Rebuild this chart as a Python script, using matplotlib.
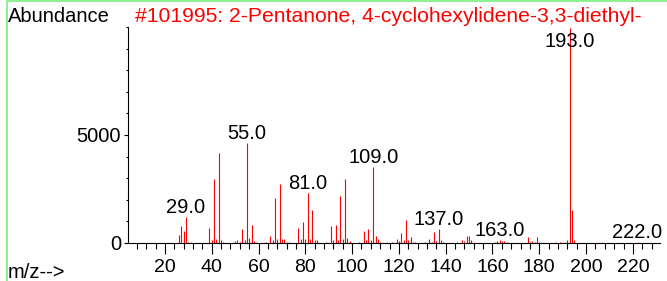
import matplotlib
matplotlib.use("Agg")
import matplotlib.pyplot as plt
from matplotlib.lines import Line2D
from matplotlib.ticker import FixedLocator, MultipleLocator

plt.rcParams['font.family'] = ['Liberation Sans', 'DejaVu Sans']

title = "#101995: 2-Pentanone, 4-cyclohexylidene-3,3-diethyl-"
y_label = "Abundance"
x_label = "m/z-->"

mz = [26, 27, 28, 29, 30, 31, 39, 40, 41, 42, 43, 44, 45, 50, 51, 52, 53, 54, 55, 56,
      57, 58, 59, 63, 65, 66, 67, 68, 69, 70, 71, 72, 73, 77, 78, 79, 80, 81, 82, 83,
      84, 85, 89, 91, 92, 93, 94, 95, 96, 97, 98, 99, 103, 105, 106, 107, 108, 109, 110, 111,
      112, 115, 117, 119, 120, 121, 122, 123, 124, 125, 126, 127, 131, 133, 134, 135, 136, 137, 138, 139,
      145, 147, 148, 149, 150, 151, 152, 161, 162, 163, 164, 165, 166, 175, 176, 177, 178, 179, 180, 187,
      189, 191, 192, 193, 194, 195, 207, 222]
abundance = [370, 775, 560, 1210, 50, 30, 670, 125, 2957, 170, 4150, 125, 50, 60, 125, 40, 650, 125, 4615, 232,
             822, 60, 40, 40, 320, 125, 2090, 158, 2725, 158, 158, 40, 30, 668, 158, 960, 158, 2320, 158, 1518,
             110, 125, 30, 775, 125, 822, 110, 2168, 172, 2943, 232, 60, 50, 550, 110, 640, 110, 3530, 311, 158,
             40, 40, 50, 170, 60, 460, 110, 1054, 110, 270, 40, 40, 50, 190, 50, 500, 90, 630, 110, 50,
             40, 130, 80, 325, 311, 125, 40, 50, 60, 110, 60, 80, 40, 250, 40, 90, 30, 260, 30, 30,
             30, 40, 110, 9990, 1518, 140, 40, 30]

labeled_peaks = [29, 55, 81, 109, 137, 163, 193, 222]
x_major_ticks = [20, 40, 60, 80, 100, 120, 140, 160, 180, 200, 220]
y_major_ticks = [0, 5000]

W, H = 667, 281
fig = plt.figure(figsize=(W / 100, H / 100), dpi=100)
ax_left, ax_right, ax_top, ax_bottom = 128, 660, 27.3, 242.7
ax = fig.add_axes([ax_left / W, (H - ax_bottom) / H, (ax_right - ax_left) / W, (ax_bottom - ax_top) / H])

ax.vlines(mz, 0, abundance, color='#ff0000', lw=0.8)

ymax = 10000
ax.set_xlim(4.2, 231.6)
ax.set_ylim(0, ymax)

for spine in ['top', 'right']:
    ax.spines[spine].set_visible(False)
for spine in ['left', 'bottom']:
    ax.spines[spine].set_linewidth(0.8)
    ax.spines[spine].set_color('black')

ax.xaxis.set_major_locator(FixedLocator(x_major_ticks))
ax.xaxis.set_minor_locator(MultipleLocator(4))
ax.yaxis.set_major_locator(FixedLocator(y_major_ticks))
ax.yaxis.set_minor_locator(MultipleLocator(1000))
ax.tick_params(axis='x', which='major', length=7.9, width=0.8, pad=3.6, labelsize=14)
ax.tick_params(axis='x', which='minor', length=4.3, width=0.8)
ax.tick_params(axis='y', which='major', length=2.9, width=0.8, pad=2.2, labelsize=14.5)
ax.tick_params(axis='y', which='minor', length=1.8, width=0.8)

lookup = dict(zip(mz, abundance))
for p in labeled_peaks:
    yv = min(lookup[p], 0.89 * ymax)
    ax.annotate(f"{p:.1f}", xy=(p, yv), xytext=(0, 0), textcoords='offset points',
                ha='center', va='bottom', fontsize=14.5, color='black', annotation_clip=False)

fig.text(7.8 / W, 1 - 21.5 / H, y_label, fontsize=14.5, color='black', va='baseline', ha='left')
fig.text(135 / W, 1 - 21.5 / H, title, fontsize=15.2, color='#ff0000', va='baseline', ha='left')
fig.text(8 / W, 1 - 278 / H, x_label, fontsize=14.5, color='black', va='baseline', ha='left')

green = '#78ee78'
fig.add_artist(Line2D([7.3 / W, 7.3 / W, 1.0], [0, 1 - 0.6 / H, 1 - 0.6 / H], transform=fig.transFigure,
                      color=green, lw=1.2))

fig.savefig('out.png', dpi=100)
